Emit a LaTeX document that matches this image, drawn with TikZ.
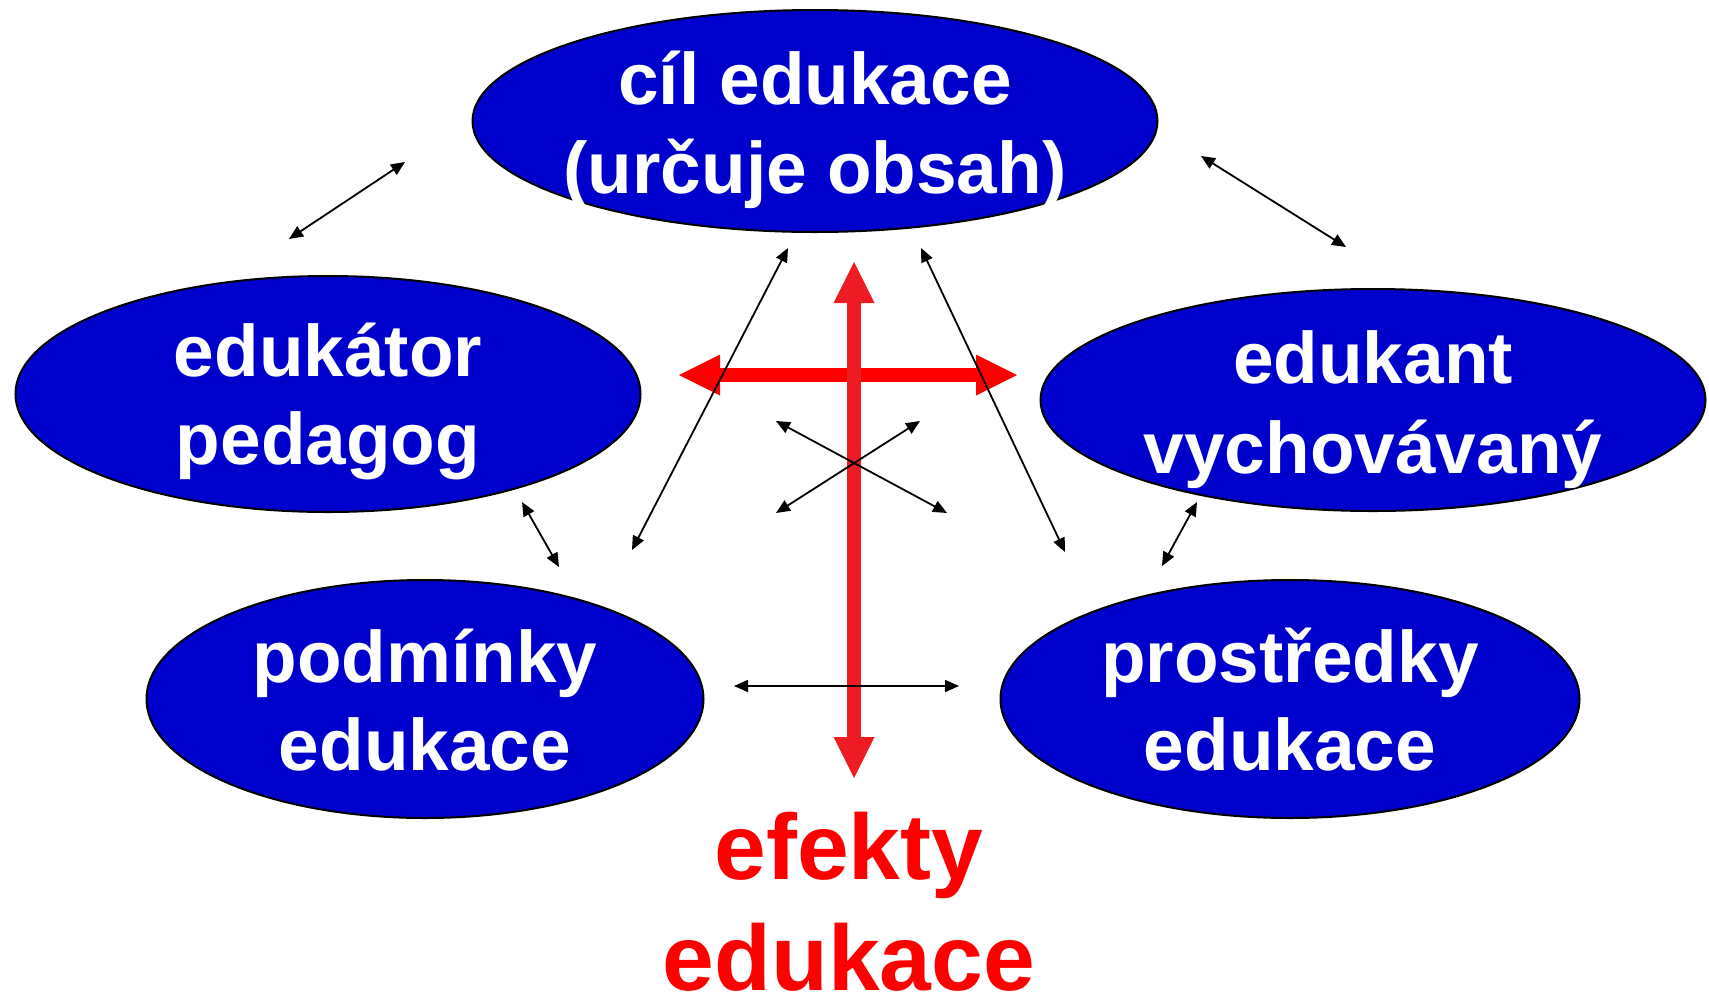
\documentclass[tikz,border=0pt]{standalone}
\usepackage{fontspec}
\setmainfont{Liberation Sans}
\usetikzlibrary{shapes.geometric,arrows.meta}
\definecolor{eblue}{RGB}{0,0,204}
\definecolor{vred}{RGB}{237,28,36}
\definecolor{hred}{RGB}{255,0,0}
\begin{document}
\begin{tikzpicture}[x=1pt,y=-1pt,
  bub/.style={ellipse, draw=black, line width=2pt, fill=eblue, inner sep=0pt},
  txt/.style={text=white, font=\fontsize{73}{#1}\selectfont\bfseries, align=center, inner sep=0pt, anchor=base},
  efx/.style={text=hred, font=\fontsize{93}{111}\selectfont\bfseries, align=center, inner sep=0pt, anchor=base},
  link/.style={black, line width=1.8pt, {Triangle[length=14pt,width=12pt]}-{Triangle[length=14pt,width=12pt]}},
  bigarrow/.style={line width=14pt, {Triangle[length=41pt,width=41pt,line width=0pt]}-{Triangle[length=41pt,width=41pt,line width=0pt]}}]
\useasboundingbox (0,0) rectangle (1709,994);
% ellipses
\node[bub, minimum width=685pt, minimum height=222pt] (cil) at (815,121) {};
\node[bub, minimum width=625pt, minimum height=236pt] (edukator) at (328,394) {};
\node[bub, minimum width=665pt, minimum height=222pt] (edukant) at (1373,400) {};
\node[bub, minimum width=557pt, minimum height=238pt] (podminky) at (425,699) {};
\node[bub, minimum width=579pt, minimum height=238pt] (prostredky) at (1290,699) {};
% texts (anchor base = baseline of the last line)
\node[txt=89] (tcil) at (815,193) {cíl edukace\\(určuje obsah)};
\node[txt=88] (tedukator) at (328,464) {edukátor\\pedagog};
\node[txt=90] (tedukant) at (1373,473) {edukant\\vychovávaný};
\node[txt=88] (tpodminky) at (425,770) {podmínky\\edukace};
\node[txt=88] (tprostredky) at (1290,770) {prostředky\\edukace};
\node[efx] (efekty) at (849,990) {efekty\\edukace};
% red arrows
\coordinate (hl) at (679,375);
\coordinate (hr) at (1017,375);
\coordinate (vt) at (854,262);
\coordinate (vb) at (854,778);
\draw[bigarrow, hred] (hl) -- (hr);
\draw[bigarrow, vred] (vt) -- (vb);
% black arrows
\coordinate (a1) at (289,239); \coordinate (b1) at (405,162);
\coordinate (a2) at (1201,156); \coordinate (b2) at (1346,247);
\coordinate (a3) at (632,550); \coordinate (b3) at (788,248);
\coordinate (a4) at (921,248); \coordinate (b4) at (1065,552);
\coordinate (a5) at (522,502); \coordinate (b5) at (559,567);
\coordinate (a6) at (1197,502); \coordinate (b6) at (1162,566);
\coordinate (a7) at (776,421); \coordinate (b7) at (947,513);
\coordinate (a8) at (920,421); \coordinate (b8) at (776,513);
\coordinate (a9) at (734,686); \coordinate (b9) at (959,686);
\foreach \i in {1,...,9} \draw[link] (a\i) -- (b\i);
\end{tikzpicture}
\end{document}
